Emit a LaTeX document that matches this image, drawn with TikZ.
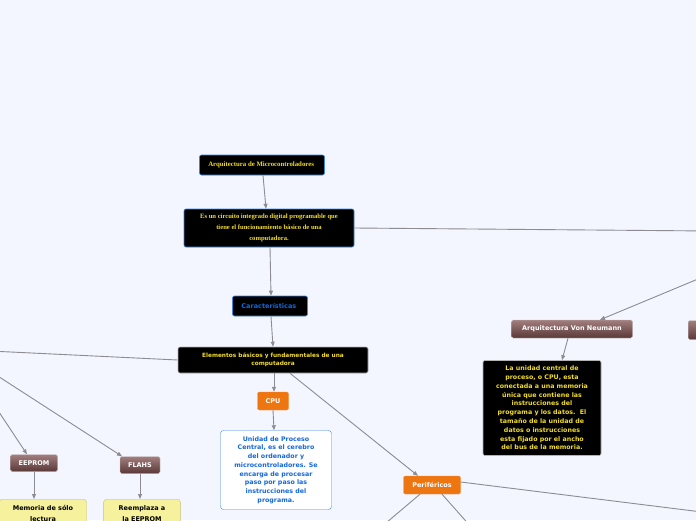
\documentclass[tikz,border=0pt]{standalone}
\usepackage{fontspec}
\setmainfont{Liberation Serif}
\newfontfamily\mapsans{DejaVu Sans}
\usepackage{xcolor}
\usetikzlibrary{arrows.meta}

\definecolor{fondo}{HTML}{F3F6FE}
\definecolor{azulborde}{HTML}{3D86E0}
\definecolor{amarillo}{HTML}{F2DC2E}
\definecolor{azultexto}{HTML}{1468D8}
\definecolor{naranja}{HTML}{EE7610}
\definecolor{cafearriba}{HTML}{A27E7E}
\definecolor{cafeabajo}{HTML}{5A3838}
\definecolor{amarillocaja}{HTML}{F6F19C}
\definecolor{gristrazo}{HTML}{8C8C92}

\tikzset{
	negro/.style={draw=azulborde, line width=0.6pt, fill=black, rounded corners=2pt, align=center, text=amarillo},
	naranjo/.style={draw=naranja!80!white, fill=naranja, rounded corners=2pt, text=white, font=\mapsans\bfseries\fontsize{6.5}{8}\selectfont},
	cafe/.style={draw=white!70!cafeabajo, top color=cafearriba, bottom color=cafeabajo, rounded corners=1.5pt, text=white, font=\mapsans\bfseries\fontsize{6.5}{8}\selectfont},
	amarilla/.style={draw=amarillocaja!80!black, fill=amarillocaja, rounded corners=3pt, align=center, text=black, inner ysep=6pt, font=\mapsans\bfseries\fontsize{6.5}{11.5}\selectfont},
	flecha/.style={-{Triangle[length=5pt,width=4pt]}, draw=gristrazo, line width=0.9pt},
	linea/.style={draw=gristrazo, line width=0.9pt}
}

\begin{document}
\begin{tikzpicture}[x=1pt, y=-1pt]
		\fill[fondo] (0,0) rectangle (696,520);
		\useasboundingbox (0,0) rectangle (696,520);
		\clip (0,0) rectangle (696,520);

		\node[negro, minimum width=125pt, minimum height=20pt, font=\bfseries\fontsize{6.8}{8}\selectfont] (arq) at (262,165) {
			Arquitectura de Microcontroladores
		};

		\node[negro, minimum width=170pt, minimum height=38pt, font=\bfseries\fontsize{6.6}{11}\selectfont] (def) at (269,228) {
			Es un circuito integrado digital programable que\\
			tiene el funcionamiento básico de una\\
			computadora.
		};

		\node[negro, minimum width=75pt, minimum height=20pt, text=azultexto, font=\mapsans\bfseries\fontsize{6.5}{8}\selectfont] (carac) at (270,306) {
			Características
		};

		\node[negro, draw=gray!60, minimum width=190pt, minimum height=26pt, font=\mapsans\bfseries\fontsize{5.8}{8.5}\selectfont] (elem) at (273,360) {
			Elementos básicos y fundamentales de una\\
			computadora
		};

		\node[naranjo, minimum width=31pt, minimum height=18pt] (cpu) at (273,401) {CPU};

		\node[draw=azulborde, fill=white, rounded corners=3pt, minimum width=111pt, minimum height=79pt, align=center, text=azultexto, font=\mapsans\bfseries\fontsize{6.3}{8.7}\selectfont] (cpudesc) at (276,470) {
			Unidad de Proceso\\
			Central, es el cerebro\\
			del ordenador y\\
			microcontroladores. Se\\
			encarga de procesar\\
			paso por paso las\\
			instrucciones del\\
			programa.
		};

		\node[naranjo, minimum width=57pt, minimum height=18pt] (peri) at (432,485) {Periféricos};

		\node[cafe, minimum width=121pt, minimum height=18pt] (vonneumann) at (572,329) {Arquitectura Von Neumann};

		\node[negro, draw=gray!60, minimum width=118pt, minimum height=95pt, font=\mapsans\bfseries\fontsize{6.3}{8.8}\selectfont] (vndesc) at (542,408) {
			La unidad central de\\
			proceso, o CPU, esta\\
			conectada a una memoria\\
			única que contiene las\\
			instrucciones del\\
			programa y los datos.~~El\\
			tamaño de la unidad de\\
			datos o instrucciones\\
			esta fijado por el ancho\\
			del bus de la memoria.
		};

		\node[cafe, anchor=west, minimum width=100pt, minimum height=19pt] (harvard) at (688,330) {Arquitectura Harvard};

		\node[cafe, minimum width=47pt, minimum height=17pt] (eeprom) at (34,463) {EEPROM};
		\node[cafe, minimum width=40pt, minimum height=17pt] (flahs) at (140,465) {FLAHS};

		\node[amarilla, anchor=north, minimum width=87pt, text width=80pt] (eepromdesc) at (43,499) {
			Memoria de sólo\\ lectura
		};
		\node[amarilla, anchor=north, minimum width=76pt, text width=70pt] (flahsdesc) at (142,499) {
			Reemplaza a\\ la EEPROM
		};

		% extremos fuera del cuadro
		\coordinate (derecha) at (710,231);
		\coordinate (vnorigen) at (710,274);
		\coordinate (izqelem) at (-10,351);
		\coordinate (izqflahs) at (-10,371);
		\coordinate (izqeeprom) at (-5,406);
		\coordinate (perider) at (710,513);
		\coordinate (periizq) at (380,528);
		\coordinate (perimed) at (472,528);

		\draw[flecha] ([xshift=1pt]arq.south) -- ([xshift=-3pt]def.north);
		\draw[flecha] ([xshift=1pt]def.south) -- ([xshift=1pt]carac.north);
		\draw[linea] (def.east) -- (derecha);
		\draw[flecha] ([xshift=1pt]carac.south) -- (elem.north);
		\draw[linea] (elem.west) -- (izqelem);
		\draw[flecha] ([xshift=1pt]elem.south) -- ([xshift=1pt]cpu.north);
		\draw[flecha] (cpu.south) -- ([xshift=-2pt]cpudesc.north);
		\draw[flecha] ([xshift=17pt]elem.south) -- ([xshift=-14pt]peri.north);

		\draw[linea] ([yshift=3pt]peri.east) -- (perider);
		\draw[linea] ([xshift=-12pt]peri.south) -- (periizq);
		\draw[linea] ([xshift=10pt]peri.south) -- (perimed);

		\draw[flecha] (vnorigen) -- ([xshift=28pt]vonneumann.north);
		\draw[flecha] ([xshift=-4pt]vonneumann.south) -- ([xshift=20pt]vndesc.north);

		\draw[flecha] (izqeeprom) -- ([xshift=-7pt]eeprom.north);
		\draw[flecha] (izqflahs) -- ([xshift=-18pt]flahs.north);
		\draw[flecha] (eeprom.south) -- ([xshift=-9pt]eepromdesc.north);
		\draw[flecha] (flahs.south) -- ([xshift=-2pt]flahsdesc.north);

	\end{tikzpicture}
\end{document}
